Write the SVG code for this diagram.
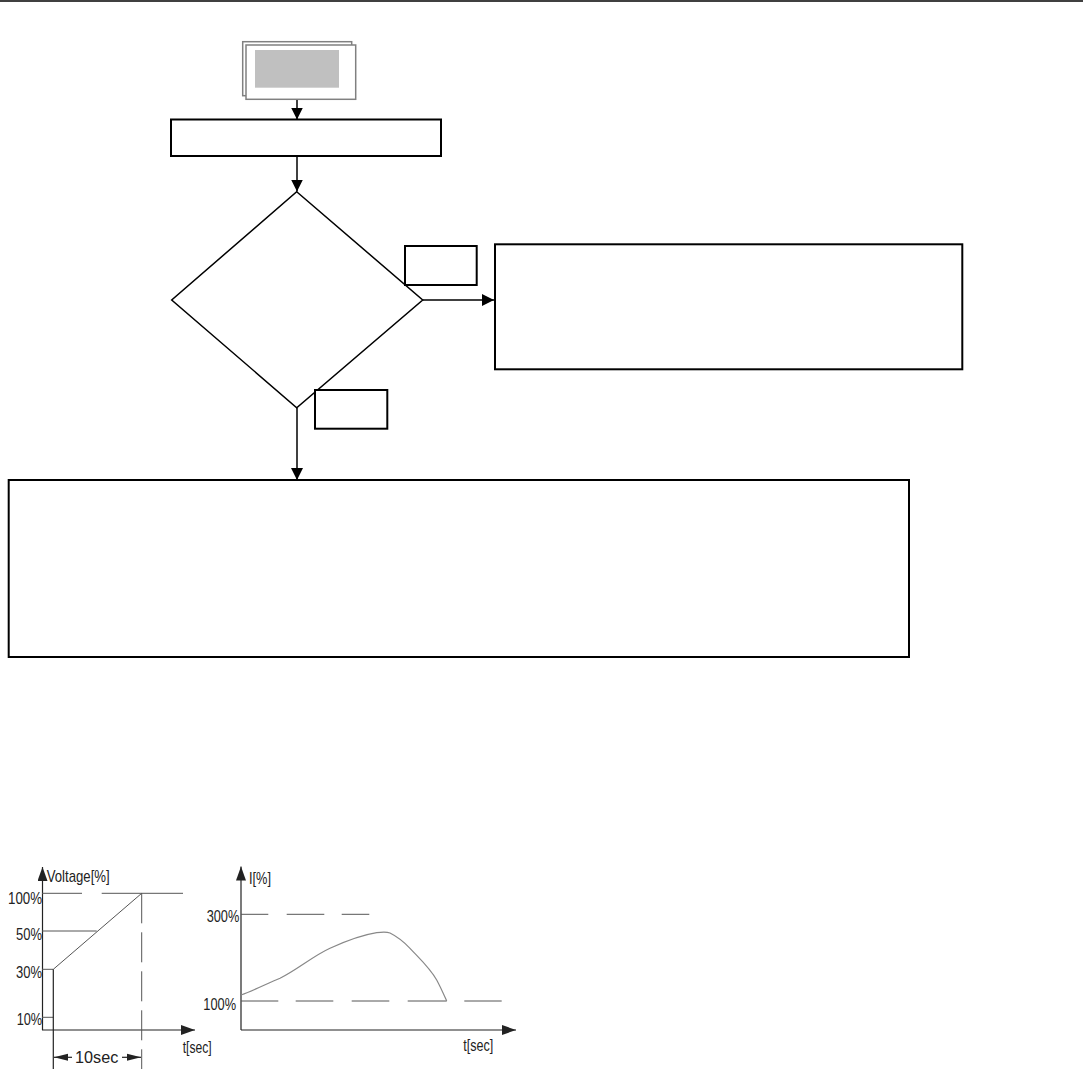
<svg xmlns="http://www.w3.org/2000/svg" width="1083" height="1069" viewBox="0 0 1083 1069">
<style>
.box{fill:#fff;stroke:#000;stroke-width:2}
.dia{fill:#fff;stroke:#000;stroke-width:1.5}
.conn{fill:none;stroke:#000;stroke-width:1.5}
.ax{fill:none;stroke:#222;stroke-width:1.2}
.gl{fill:none;stroke:#555;stroke-width:1}
.cv{fill:none;stroke:#888;stroke-width:1.2}
.t{font-family:"Liberation Sans",Arial,sans-serif;font-size:17px;fill:#222}
</style>
<defs>
<marker id="ah" markerWidth="12" markerHeight="12" viewBox="0 0 12 12" refX="12" refY="6" orient="auto" markerUnits="userSpaceOnUse">
<path d="M0,0 L12,6 L0,12 Z" fill="#000"/>
</marker>
<marker id="axh" markerWidth="14" markerHeight="10" viewBox="0 0 14 10" refX="14" refY="5" orient="auto" markerUnits="userSpaceOnUse">
<path d="M0,0 L14,5 L0,10 Z" fill="#222"/>
</marker>
<marker id="dh" markerWidth="14" markerHeight="8" viewBox="0 0 14 8" refX="14" refY="4" orient="auto" markerUnits="userSpaceOnUse">
<path d="M0,0.5 L14,4 L0,7.5 Z" fill="#222"/>
</marker>
</defs>
<rect width="1083" height="1069" fill="#fff"/>
<line x1="0" y1="1" x2="1083" y2="1" stroke="#000" stroke-width="1.5"/>

<g id="connectors">
<line class="conn" x1="297" y1="99" x2="297" y2="119.5" marker-end="url(#ah)"/>
<line class="conn" x1="297" y1="156" x2="297" y2="191.5" marker-end="url(#ah)"/>
<line class="conn" x1="422.7" y1="300" x2="494" y2="300" marker-end="url(#ah)"/>
<line class="conn" x1="297" y1="407.7" x2="297" y2="480" marker-end="url(#ah)"/>
</g>

<g id="start">
<rect x="242.7" y="41.7" width="109" height="54" fill="#fff" stroke="#808080" stroke-width="1.5"/>
<rect x="246" y="45" width="109.7" height="54.3" fill="#fff" stroke="#808080" stroke-width="1.5"/>
<rect x="255" y="50" width="84" height="37.7" fill="#c0c0c0"/>
</g>
<g id="process1"><rect class="box" x="171" y="119.5" width="270" height="36.5"/></g>
<g id="decision"><polygon class="dia" points="296.7,191.7 422.7,300 296.7,407.7 171.7,300"/></g>
<g id="label-yes"><rect class="box" x="405" y="246" width="71.7" height="39"/></g>
<g id="label-no"><rect class="box" x="315" y="390" width="72.3" height="38.7"/></g>
<g id="process-right"><rect class="box" x="495" y="244.3" width="467.3" height="125"/></g>
<g id="process-bottom"><rect class="box" x="8.7" y="480" width="900.3" height="177"/></g>

<g id="voltage-chart">
<line class="ax" x1="42.5" y1="1030" x2="42.5" y2="867" marker-end="url(#axh)"/>
<line class="ax" x1="42" y1="1030" x2="195" y2="1030" marker-end="url(#axh)"/>
<line class="gl" x1="42" y1="893.3" x2="82" y2="893.3"/>
<line class="gl" x1="101.7" y1="893.3" x2="183" y2="893.3"/>
<line class="gl" x1="42" y1="931" x2="96.7" y2="931"/>
<line class="gl" x1="42" y1="969.3" x2="53.3" y2="969.3"/>
<line class="gl" x1="42" y1="1017.3" x2="53.3" y2="1017.3"/>
<line class="ax" x1="53.3" y1="969.3" x2="53.3" y2="1069"/>
<line class="gl" x1="53.3" y1="969.3" x2="141.7" y2="893.3"/>
<line class="gl" x1="141.7" y1="893.3" x2="141.7" y2="1069" stroke-dasharray="30,9"/>
<text class="t" x="46.7" y="882" textLength="63" lengthAdjust="spacingAndGlyphs">Voltage[%]</text>
<text class="t" x="8" y="904" textLength="34" lengthAdjust="spacingAndGlyphs">100%</text>
<text class="t" x="16" y="939.5" textLength="26" lengthAdjust="spacingAndGlyphs">50%</text>
<text class="t" x="16" y="978" textLength="26" lengthAdjust="spacingAndGlyphs">30%</text>
<text class="t" x="16.7" y="1024.5" textLength="25.5" lengthAdjust="spacingAndGlyphs">10%</text>
<text class="t" x="182.7" y="1052.5" textLength="29" lengthAdjust="spacingAndGlyphs">t[sec]</text>
<line class="ax" x1="72" y1="1057.3" x2="54" y2="1057.3" marker-end="url(#dh)"/>
<line class="ax" x1="122" y1="1057.3" x2="141" y2="1057.3" marker-end="url(#dh)"/>
<text class="t" x="75" y="1062.5" textLength="43.3" lengthAdjust="spacingAndGlyphs">10sec</text>
</g>

<g id="current-chart">
<line class="ax" x1="241" y1="1030" x2="241" y2="866.5" marker-end="url(#axh)"/>
<line class="ax" x1="241" y1="1030" x2="516" y2="1030" marker-end="url(#axh)"/>
<path class="gl" d="M241,914.3H268.3M286.7,914.3H324.3M341.7,914.3H369.3"/>
<path class="gl" d="M241,1001H278.3M295.7,1001H333.3M351.7,1001H389.3M407.7,1001H446.7M464.3,1001H501.7"/>
<path class="cv" d="M241,995 C255,990 268,983 280,978.3 C297,970 313,956 330,948.3 C346,941 362,935 376.7,932.7 C382,932 386,931.5 390,933 C398,937 404,942 410,948.3 C420,959 430,968 436.7,980 C441,988 444,995 446.7,1001"/>
<text class="t" x="249" y="883.5" textLength="22" lengthAdjust="spacingAndGlyphs">I[%]</text>
<text class="t" x="206.7" y="922" textLength="32.6" lengthAdjust="spacingAndGlyphs">300%</text>
<text class="t" x="203.3" y="1009.5" textLength="32.7" lengthAdjust="spacingAndGlyphs">100%</text>
<text class="t" x="463.3" y="1050.5" textLength="30" lengthAdjust="spacingAndGlyphs">t[sec]</text>
</g>
</svg>
